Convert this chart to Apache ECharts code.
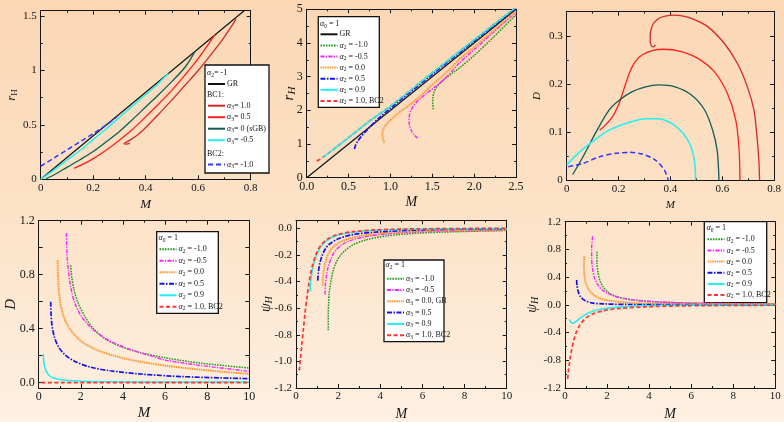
<!DOCTYPE html>
<html><head><meta charset="utf-8">
<script src="https://cdn.jsdelivr.net/npm/echarts@6/dist/echarts.min.js"></script>
<style>
html,body{margin:0;padding:0;}
body{width:784px;height:422px;background:linear-gradient(180deg,#fbd7b4 0%,#fce2c7 50%,#fef0e2 100%);}
#c{width:784px;height:422px;}
</style>
</head><body><div id="c"></div>
<script>
// ---------- tick labels ----------
const p1XTicks = [0, 0.2, 0.4, 0.6, 0.8];
const p1YTicks = [0, 0.5, 1, 1.5];
const p2XTicks = [0, 0.5, 1, 1.5, 2, 2.5];
const p2YTicks = [0, 1, 2, 3, 4, 5];
const p3XTicks = [0, 0.2, 0.4, 0.6, 0.8];
const p3YTicks = [0, 0.1, 0.2, 0.3];
const p4XTicks = [0, 2, 4, 6, 8, 10];
const p4YTicks = [0, 0.4, 0.8, 1.2];
const p4YMinor = [0, 0.2, 0.4, 0.6, 0.8, 1.0, 1.2];
const p5XTicks = [0, 2, 4, 6, 8, 10];
const p5YTicks = [-1.2, -1.0, -0.8, -0.6, -0.4, -0.2, 0];
const p6XTicks = [0, 2, 4, 6, 8, 10];
const p6YTicks = [-1.2, -0.8, -0.4, 0, 0.4, 0.8, 1.2];

// ---------- panel 1: r_H vs M (alpha2 = -1) ----------
const p1GR = [[0,0],[0.775,1.55]];
const p1A3p10 = [[0.34,0.33],[0.326,0.324],[0.318,0.326],[0.323,0.338],[0.34,0.36],[0.37,0.41],[0.4,0.477],[0.45,0.6],[0.5,0.73],[0.55,0.865],[0.6,1.0],[0.65,1.15],[0.7,1.31],[0.744,1.47]];
const p1A3p05 = [[0.127,0.101],[0.15,0.125],[0.2,0.19],[0.25,0.27],[0.3,0.36],[0.35,0.46],[0.4,0.575],[0.45,0.695],[0.5,0.82],[0.55,0.96],[0.6,1.11],[0.664,1.33]];
const p1A3p00 = [[0.02,0.005],[0.05,0.04],[0.1,0.11],[0.15,0.18],[0.2,0.255],[0.25,0.345],[0.3,0.44],[0.35,0.55],[0.4,0.665],[0.45,0.78],[0.5,0.9],[0.55,1.03],[0.588,1.176]];
const p1A3m05 = [[0,0],[0.05,0.085],[0.1,0.175],[0.15,0.265],[0.2,0.365],[0.25,0.465],[0.3,0.57],[0.35,0.675],[0.4,0.78],[0.45,0.885],[0.486,0.972]];
const p1A3m10 = [[0,0.12],[0.05,0.195],[0.1,0.27],[0.15,0.345],[0.2,0.42],[0.25,0.5],[0.29,0.575]];

// ---------- panel 2: r_H vs M (alpha0 = 1) ----------
const p2GR = [[0,0],[2.5,5]];
const p2A2m10 = [[1.513,2.03],[1.506,2.2],[1.508,2.38],[1.52,2.53],[1.55,2.68],[1.6,2.82],[1.67,2.97],[1.75,3.12],[1.83,3.27],[2.0,3.63],[2.23,4.17],[2.5,4.84]];
const p2A2m05 = [[1.326,1.17],[1.28,1.28],[1.25,1.4],[1.228,1.55],[1.222,1.7],[1.228,1.86],[1.25,2.02],[1.29,2.18],[1.35,2.33],[1.43,2.5],[1.513,2.66],[1.65,2.94],[1.83,3.42],[2.0,3.8],[2.23,4.32],[2.5,4.91]];
const p2A2p00 = [[0.925,1.04],[0.912,1.15],[0.905,1.28],[0.91,1.4],[0.93,1.51],[0.97,1.63],[1.035,1.79],[1.1,1.93],[1.234,2.17],[1.4,2.52],[1.513,2.79],[1.7,3.2],[1.83,3.53],[2.0,3.88],[2.23,4.37],[2.5,4.94]];
const p2A2p05 = [[0.57,0.85],[0.585,0.97],[0.61,1.09],[0.65,1.22],[0.7,1.36],[0.76,1.52],[0.85,1.74],[1.0,2.06],[1.5,3.07],[2.0,4.06],[2.5,5.04]];
const p2A2p09 = [[0.19,0.6],[0.3,0.8],[0.5,1.19],[0.75,1.68],[1.0,2.12],[1.5,3.11],[2.0,4.09],[2.5,5.06]];
const p2A2p10 = [[0.12,0.5],[0.16,0.55],[0.2,0.62],[0.3,0.8],[0.5,1.19],[0.75,1.68],[1.0,2.12],[1.5,3.11],[2.0,4.09],[2.5,5.06]];

// ---------- panel 3: D vs M (alpha2 = -1) ----------
const p3A3p10 = [[0.342,0.281],[0.334,0.277],[0.326,0.28],[0.322,0.29],[0.322,0.302],[0.326,0.314],[0.335,0.326],[0.35,0.334],[0.367,0.339],[0.39,0.342],[0.411,0.343],[0.45,0.341],[0.481,0.336],[0.544,0.319],[0.608,0.284],[0.658,0.243],[0.697,0.194],[0.722,0.146],[0.734,0.09],[0.741,0.042],[0.744,0]];
const p3A3p05 = [[0.127,0.104],[0.15,0.115],[0.177,0.132],[0.2025,0.16],[0.215,0.18],[0.228,0.201],[0.24,0.22],[0.253,0.236],[0.27,0.25],[0.291,0.26],[0.329,0.269],[0.373,0.272],[0.443,0.267],[0.506,0.253],[0.57,0.225],[0.62,0.18],[0.652,0.125],[0.665,0.063],[0.668,0]];
const p3A3p00 = [[0.023,0.012],[0.063,0.049],[0.114,0.101],[0.164,0.146],[0.2025,0.166],[0.253,0.184],[0.304,0.194],[0.354,0.198],[0.418,0.194],[0.481,0.177],[0.532,0.146],[0.563,0.104],[0.58,0.063],[0.586,0.02],[0.587,0]];
const p3A3m05 = [[0,0.032],[0.05,0.059],[0.108,0.084],[0.164,0.104],[0.228,0.118],[0.304,0.128],[0.354,0.128],[0.405,0.118],[0.449,0.0975],[0.479,0.07],[0.494,0.035],[0.497,0]];
const p3A3m10 = [[0.006,0.028],[0.063,0.035],[0.127,0.049],[0.19,0.056],[0.24,0.058],[0.291,0.0546],[0.342,0.042],[0.377,0.021],[0.392,0]];

// ---------- panel 4: D vs M (alpha0 = 1) ----------
const p4A2m10 = [[1.52,0.869],[1.57,0.783],[1.68,0.685],[1.88,0.587],[2.2,0.488],[2.59,0.402],[3.23,0.317],[4.02,0.26],[4.81,0.223],[6.08,0.182],[7.66,0.145],[10,0.108]];
const p4A2m05 = [[1.31,1.107],[1.34,0.955],[1.41,0.832],[1.52,0.709],[1.72,0.587],[2.04,0.488],[2.52,0.402],[3.23,0.321],[4.18,0.255],[5.28,0.2],[6.08,0.165],[7.66,0.128],[10,0.083]];
const p4A2p00 = [[0.9,0.906],[0.92,0.783],[0.97,0.66],[1.06,0.562],[1.25,0.464],[1.57,0.378],[2.04,0.304],[2.75,0.243],[3.7,0.194],[4.81,0.155],[6.08,0.125],[7.66,0.096],[10,0.064]];
const p4A2p05 = [[0.57,0.599],[0.585,0.513],[0.63,0.427],[0.74,0.341],[0.93,0.267],[1.25,0.206],[1.72,0.157],[2.44,0.115],[3.39,0.088],[4.81,0.064],[6.87,0.044],[10,0.029]];
const p4A2p09 = [[0.22,0.213],[0.25,0.145],[0.33,0.096],[0.46,0.059],[0.7,0.034],[1.17,0.02],[2.12,0.01],[3.7,0.006],[6.08,0.005],[10,0.005]];
const p4A2p10 = [[0.13,0],[10,0]];

// ---------- panel 5: psi_H vs M ----------
const p5A3m10 = [[1.53,-0.767],[1.53,-0.664],[1.55,-0.566],[1.58,-0.479],[1.65,-0.406],[1.74,-0.332],[1.87,-0.27],[2.06,-0.214],[2.33,-0.167],[2.72,-0.123],[3.35,-0.086],[4.3,-0.057],[5.73,-0.037],[7.78,-0.025],[10,-0.017]];
const p5A3m05 = [[1.38,-0.497],[1.39,-0.43],[1.44,-0.364],[1.52,-0.295],[1.65,-0.234],[1.82,-0.179],[2.09,-0.135],[2.48,-0.098],[3.2,-0.066],[4.3,-0.042],[5.89,-0.027],[7.78,-0.02],[10,-0.015]];
const p5A3p00 = [[1.27,-0.43],[1.28,-0.369],[1.33,-0.307],[1.41,-0.246],[1.53,-0.192],[1.72,-0.148],[2.01,-0.111],[2.48,-0.079],[3.2,-0.054],[4.3,-0.034],[5.89,-0.022],[7.78,-0.015],[10,-0.01]];
const p5A3p05 = [[1.03,-0.393],[1.06,-0.332],[1.12,-0.27],[1.23,-0.209],[1.39,-0.155],[1.61,-0.116],[2.01,-0.079],[2.64,-0.049],[3.67,-0.03],[5.41,-0.015],[7.78,-0.007],[10,-0.005]];
const p5A3p09 = [[0.665,-0.479],[0.696,-0.406],[0.76,-0.332],[0.854,-0.258],[0.98,-0.197],[1.17,-0.14],[1.456,-0.093],[1.93,-0.054],[2.72,-0.03],[3.83,-0.015],[5.41,-0.007],[10,-0.002]];
const p5A3p10 = [[0.158,-1.07],[0.206,-0.984],[0.269,-0.885],[0.348,-0.762],[0.427,-0.639],[0.522,-0.516],[0.633,-0.393],[0.775,-0.283],[0.949,-0.197],[1.171,-0.13],[1.456,-0.086],[1.93,-0.049],[2.72,-0.025],[3.83,-0.012],[5.41,-0.005],[10,0]];

// ---------- panel 6: psi_H vs M (alpha0 = 1) ----------
const p6A2m10 = [[1.52,0.765],[1.52,0.609],[1.57,0.468],[1.66,0.35],[1.82,0.255],[2.06,0.18],[2.46,0.118],[3.09,0.076],[4.04,0.047],[5.47,0.028],[7.37,0.019],[10,0.014]];
const p6A2m05 = [[1.315,0.987],[1.268,0.822],[1.268,0.657],[1.315,0.515],[1.395,0.397],[1.537,0.302],[1.743,0.222],[2.06,0.161],[2.54,0.109],[3.25,0.071],[4.2,0.047],[5.78,0.028],[7.69,0.019],[10,0.009]];
const p6A2p00 = [[0.92,0.704],[0.9,0.562],[0.92,0.444],[0.98,0.326],[1.11,0.231],[1.32,0.151],[1.66,0.094],[2.22,0.057],[3.09,0.028],[4.52,0.014],[7.37,0.009],[10,0.005]];
const p6A2p05 = [[0.555,0.359],[0.57,0.279],[0.634,0.184],[0.745,0.113],[0.95,0.061],[1.27,0.028],[1.82,0.014],[3.09,0.005],[10,0]];
const p6A2p09 = [[0.206,-0.208],[0.27,-0.246],[0.365,-0.265],[0.49,-0.246],[0.68,-0.203],[0.95,-0.146],[1.27,-0.099],[1.74,-0.061],[2.46,-0.033],[3.57,-0.014],[5.47,-0.005],[10,0]];
const p6A2p10 = [[0.127,-1.068],[0.174,-0.926],[0.238,-0.784],[0.317,-0.642],[0.428,-0.5],[0.555,-0.383],[0.745,-0.274],[1.0,-0.189],[1.35,-0.128],[1.82,-0.085],[2.61,-0.052],[3.88,-0.028],[5.78,-0.014],[10,-0.005]];

// ---------- styles ----------
const FONT = "'Liberation Serif', 'Times New Roman', serif";
const INK = '#151515';
const ST = {
  gr:   {color:'#111111', type:'solid', width:1.2},
  r10:  {color:'#d22a2a', type:'solid', width:1.3},
  r05:  {color:'#ff1f1f', type:'solid', width:1.3},
  teal: {color:'#115c57', type:'solid', width:1.3},
  cy1:  {color:'#1ff2f2', type:'solid', width:1.5},
  bl1:  {color:'#3535ff', type:[5,3], width:1.5},
  green:{color:'#1e9a1e', type:[1.6,1.1], width:1.5},
  mag:  {color:'#ff20ff', type:[4,1.3,1.3,1.3], width:1.4},
  ora:  {color:'#ff9b3d', type:[1.6,0.7], width:2.0},
  blue: {color:'#1212ee', type:[5,1.5,1.5,1.5], width:1.7},
  cyan: {color:'#22eeee', type:'solid', width:1.5},
  red:  {color:'#ff3333', type:[4,2.5], width:1.7}
};

function S(name, data, gi, st) {
  return {type:'line', name, data, xAxisIndex:gi, yAxisIndex:gi, symbol:'none', showSymbol:false,
    smooth:0.3, clip:true, lineStyle:Object.assign({}, st), itemStyle:{color:st.color}, emphasis:{disabled:true}};
}

const series = [
  S('P1 GR', p1GR, 0, ST.gr),
  S('P1 a3 -1.0', p1A3m10, 0, ST.bl1),
  S('P1 a3 1.0', p1A3p10, 0, ST.r10),
  S('P1 a3 0.5', p1A3p05, 0, ST.r05),
  S('P1 a3 0', p1A3p00, 0, ST.teal),
  S('P1 a3 -0.5', p1A3m05, 0, ST.cy1),

  S('P2 GR', p2GR, 1, ST.gr),
  S('P2 a2 -1.0', p2A2m10, 1, ST.green),
  S('P2 a2 -0.5', p2A2m05, 1, ST.mag),
  S('P2 a2 0.0', p2A2p00, 1, ST.ora),
  S('P2 a2 1.0', p2A2p10, 1, ST.red),
  S('P2 a2 0.5', p2A2p05, 1, ST.blue),
  S('P2 a2 0.9', p2A2p09, 1, ST.cyan),

  S('P3 a3 1.0', p3A3p10, 2, ST.r10),
  S('P3 a3 0.5', p3A3p05, 2, ST.r05),
  S('P3 a3 0', p3A3p00, 2, ST.teal),
  S('P3 a3 -0.5', p3A3m05, 2, ST.cy1),
  S('P3 a3 -1.0', p3A3m10, 2, ST.bl1),

  S('P4 a2 -1.0', p4A2m10, 3, ST.green),
  S('P4 a2 -0.5', p4A2m05, 3, ST.mag),
  S('P4 a2 0.0', p4A2p00, 3, ST.ora),
  S('P4 a2 0.5', p4A2p05, 3, ST.blue),
  S('P4 a2 0.9', p4A2p09, 3, ST.cyan),
  S('P4 a2 1.0', p4A2p10, 3, ST.red),

  S('P5 a3 -1.0', p5A3m10, 4, ST.green),
  S('P5 a3 -0.5', p5A3m05, 4, ST.mag),
  S('P5 a3 0.0', p5A3p00, 4, ST.ora),
  S('P5 a3 0.5', p5A3p05, 4, ST.blue),
  S('P5 a3 0.9', p5A3p09, 4, ST.cyan),
  S('P5 a3 1.0', p5A3p10, 4, ST.red),

  S('P6 a2 -1.0', p6A2m10, 5, ST.green),
  S('P6 a2 -0.5', p6A2m05, 5, ST.mag),
  S('P6 a2 0.0', p6A2p00, 5, ST.ora),
  S('P6 a2 0.5', p6A2p05, 5, ST.blue),
  S('P6 a2 0.9', p6A2p09, 5, ST.cyan),
  S('P6 a2 1.0', p6A2p10, 5, ST.red)
];

// ---------- labels (rich text) ----------
function rich(fs, sfs, lh) {
  return {
    i:{fontFamily:FONT, fontStyle:'italic', fontSize:fs, lineHeight:lh, color:INK},
    t:{fontFamily:FONT, fontSize:fs, lineHeight:lh, color:INK},
    s:{fontFamily:FONT, fontSize:sfs, lineHeight:lh, verticalAlign:'bottom', color:INK},
    si:{fontFamily:FONT, fontStyle:'italic', fontSize:sfs, lineHeight:lh, verticalAlign:'bottom', color:INK}
  };
}
const a = (sub, rest) => '{i|α}{s|' + sub + '}{t|' + rest + '}';
const LBL = {
  'P1 GR':'{t|GR}',
  'P1 a3 1.0':a('3','= 1.0'), 'P1 a3 0.5':a('3','= 0.5'), 'P1 a3 0':a('3','= 0 (sGB)'),
  'P1 a3 -0.5':a('3','= -0.5'), 'P1 a3 -1.0':a('3','= -1.0'),
  'P2 GR':'{t|GR}',
  'P2 a2 -1.0':a('2',' = -1.0'), 'P2 a2 -0.5':a('2',' = -0.5'), 'P2 a2 0.0':a('2',' = 0.0'),
  'P2 a2 0.5':a('2',' = 0.5'), 'P2 a2 0.9':a('2',' = 0.9'), 'P2 a2 1.0':a('2',' = 1.0, BC2'),
  'P4 a2 -1.0':a('2',' = -1.0'), 'P4 a2 -0.5':a('2',' = -0.5'), 'P4 a2 0.0':a('2',' = 0.0'),
  'P4 a2 0.5':a('2',' = 0.5'), 'P4 a2 0.9':a('2',' = 0.9'), 'P4 a2 1.0':a('2',' = 1.0, BC2'),
  'P5 a3 -1.0':a('3',' = -1.0'), 'P5 a3 -0.5':a('3',' = -0.5'), 'P5 a3 0.0':a('3',' = 0.0, GB'),
  'P5 a3 0.5':a('3',' = 0.5'), 'P5 a3 0.9':a('3',' = 0.9'), 'P5 a3 1.0':a('3',' = 1.0, BC2'),
  'P6 a2 -1.0':a('2',' = -1.0'), 'P6 a2 -0.5':a('2',' = -0.5'), 'P6 a2 0.0':a('2',' = 0.0'),
  'P6 a2 0.5':a('2',' = 0.5'), 'P6 a2 0.9':a('2',' = 0.9'), 'P6 a2 1.0':a('2',' = 1.0, BC2')
};
const LR = rich(8, 5.5, 10);
function leg(names, left, top, gap, iw) {
  return {orient:'vertical', left, top, padding:0, itemWidth:iw, itemHeight:8, itemGap:gap,
    selectedMode:false, data:names, formatter:n => LBL[n],
    itemStyle:{opacity:0, borderWidth:0},
    textStyle:{fontFamily:FONT, fontSize:8, lineHeight:10, color:INK, rich:LR, padding:[0,0,0,-3]}};
}
const legends = [
  leg(['P1 GR'], 207, 79, 1.5, 17),
  leg(['P1 a3 1.0','P1 a3 0.5','P1 a3 0','P1 a3 -0.5'], 207, 100.7, 1.5, 17),
  leg(['P1 a3 -1.0'], 207, 159.5, 1.5, 17),
  leg(['P2 GR','P2 a2 -1.0','P2 a2 -0.5','P2 a2 0.0','P2 a2 0.5','P2 a2 0.9','P2 a2 1.0'], 319.5, 29.3, 1.1, 17),
  leg(['P4 a2 -1.0','P4 a2 -0.5','P4 a2 0.0','P4 a2 0.5','P4 a2 0.9','P4 a2 1.0'], 158.5, 244.3, 1.5, 17),
  leg(['P5 a3 -1.0','P5 a3 -0.5','P5 a3 0.0','P5 a3 0.5','P5 a3 0.9','P5 a3 1.0'], 386, 273.7, 1.3, 17),
  leg(['P6 a2 -1.0','P6 a2 -0.5','P6 a2 0.0','P6 a2 0.5','P6 a2 0.9','P6 a2 1.0'], 706.5, 234.3, 1.15, 17)
];

function box(x, y, w, h) {
  return {type:'rect', z:3, shape:{x, y, width:w, height:h}, style:{fill:'#ffffff', stroke:'#111', lineWidth:1.3}};
}
function head(x, y, txt) {
  return {type:'text', z:6, x, y, style:{text:txt, rich:LR, font:'8px ' + FONT, verticalAlign:'middle', fill:INK}};
}
const graphics = [
  box(205, 65, 64, 108), head(207, 73.3, a('2','= -1')), head(207, 94.7, '{t|BC1:}'), head(207, 153.5, '{t|BC2:}'),
  box(318.3, 16.7, 61, 90.6), head(320, 24.3, a('0',' = 1')),
  box(156.7, 231.7, 61.6, 81.6), head(158.5, 238.3, a('0',' = 1')),
  box(384, 260, 60, 81.7), head(385.5, 265.3, a('2',' = 1')),
  box(704.3, 221.7, 62.4, 81), head(706.5, 228.3, a('0',' = 1'))
];

// ---------- axes ----------
const P = [
  {grid:{left:40.7, top:10.7, width:210, height:168.6},
   x:{min:0,max:0.8,iv:0.2,ticks:p1XTicks,fmt:v=>String(v),fs:11,name:'{i|M}',gap:18,nfs:13},
   y:{min:0,max:1.55,iv:0.5,ticks:p1YTicks,fmt:v=>String(v),fs:11,name:'{i|r}{s|H}',gap:22,nfs:13}},
  {grid:{left:306.7, top:9.3, width:209.3, height:168.4},
   x:{min:0,max:2.5,iv:0.5,ticks:p2XTicks,fmt:v=>v.toFixed(1),fs:12,name:'{i|M}',gap:17,nfs:14},
   y:{min:0,max:5,iv:1,ticks:p2YTicks,fmt:v=>String(v),fs:12,name:'{i|r}{si|H}',gap:9,nfs:15}},
  {grid:{left:566.7, top:11.7, width:210.6, height:168.6},
   x:{min:0,max:0.8,iv:0.2,ticks:p3XTicks,fmt:v=>String(v),fs:11,name:'{i|M}',gap:18,nfs:11},
   y:{min:0,max:0.35,iv:0.1,ticks:p3YTicks,fmt:v=>String(v),fs:11,name:'{i|D}',gap:23,nfs:11}},
  {grid:{left:38.7, top:220.7, width:210.6, height:169.6},
   x:{min:0,max:10,iv:2,ticks:p4XTicks,fmt:v=>String(v),fs:12,name:'{i|M}',gap:17,nfs:15},
   y:{min:-0.04,max:1.2,iv:null,ticks:p4YTicks,tickVals:p4YMinor,fmt:v=>v.toFixed(1),fs:12,name:'{i|D}',gap:19,nfs:15}},
  {grid:{left:296, top:220.3, width:210.7, height:170.7},
   x:{min:0,max:10,iv:2,ticks:p5XTicks,fmt:v=>String(v),fs:11,name:'{i|M}',gap:18,nfs:14},
   y:{min:-1.2,max:0.06,iv:0.2,ticks:p5YTicks,fmt:v=>v.toFixed(1),fs:11,name:'{i|ψ}{si|H}',gap:22,nfs:14}},
  {grid:{left:565, top:221.7, width:210.3, height:169.3},
   x:{min:0,max:10,iv:2,ticks:p6XTicks,fmt:v=>String(v),fs:11,name:'{i|M}',gap:18,nfs:14},
   y:{min:-1.2,max:1.2,iv:0.4,ticks:p6YTicks,fmt:v=>v.toFixed(1),fs:11,name:'{i|ψ}{si|H}',gap:25,nfs:14}}
];

function axis(gi, c, pos, main, isY) {
  const o = {type:'value', gridIndex:gi, position:pos, min:c.min, max:c.max, scale:false,
    splitLine:{show:false},
    axisLine:{show:true, onZero:false, lineStyle:{color:INK, width:1}},
    axisTick:{show:true, inside:true, length:4, lineStyle:{color:INK, width:1}},
    minorTick:{show:c.iv != null, splitNumber:2, length:2, lineStyle:{color:INK, width:1}},
    axisLabel:{show:main, customValues:c.ticks, formatter:c.fmt, fontFamily:FONT, fontSize:c.fs, color:INK, margin:isY ? 4 : 3}
  };
  if (c.iv != null) o.interval = c.iv;
  if (c.tickVals) o.axisTick.customValues = c.tickVals;
  if (main) {
    o.name = c.name; o.nameLocation = 'middle'; o.nameGap = c.gap;
    o.nameMoveOverlap = false;
    if (isY) o.nameRotate = 90;
    o.nameTextStyle = {rich:rich(c.nfs, Math.round(c.nfs*0.7), c.nfs+2), fontFamily:FONT, fontSize:c.nfs, color:INK};
  }
  return o;
}
const xAxes = [], yAxes = [];
P.forEach((p, i) => { xAxes.push(axis(i, p.x, 'bottom', true, false)); yAxes.push(axis(i, p.y, 'left', true, true)); });
P.forEach((p, i) => { xAxes.push(axis(i, p.x, 'top', false, false)); yAxes.push(axis(i, p.y, 'right', false, true)); });

const chart = echarts.init(document.getElementById('c'), null, {renderer:'canvas'});
chart.setOption({
  animation:false,
  backgroundColor:'transparent',
  grid:P.map(p => Object.assign({containLabel:false}, p.grid)),
  xAxis:xAxes, yAxis:yAxes,
  legend:legends,
  graphic:{elements:graphics},
  series
});
</script></body></html>
